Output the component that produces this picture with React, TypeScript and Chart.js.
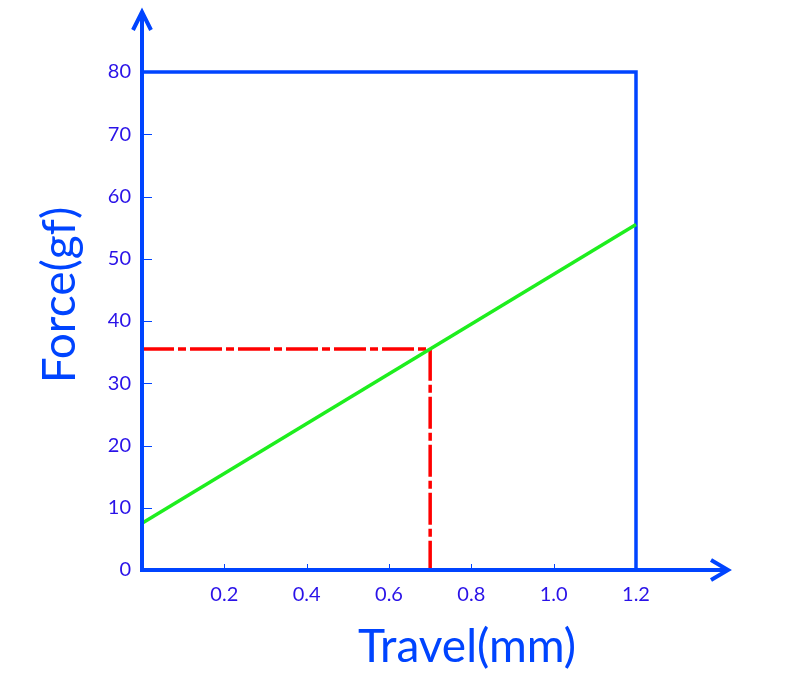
import React, { useEffect, useRef } from "react";
import { Chart, registerables } from "chart.js";

Chart.register(...registerables);

const xTicks = [0.2, 0.4, 0.6, 0.8, 1.0, 1.2];
const yTicks = [0, 10, 20, 30, 40, 50, 60, 70, 80];
const springX = [0, 1.2];
const springY = [7.5, 55.5];
const markerX = [0, 0.7, 0.7];
const markerY = [35.5, 35.5, 0];
const boxX = [0, 1.2, 1.2];
const boxY = [80, 80, 0];
const xTitle = "Travel(mm)";
const yTitle = "Force(gf)";

const AXIS_BLUE = "#0044ff";
const LABEL_BLUE = "#2a12e8";
const FONT = "Lato, 'Open Sans', sans-serif";

const pts = (xs: number[], ys: number[]) => xs.map((x, i) => ({ x, y: ys[i] }));

const decorPlugin = {
  id: "decor",
  afterDatasetsDraw(chart: any) {
    const ctx = chart.ctx;
    const xs = chart.scales.x;
    const ys = chart.scales.y;
    const x0 = xs.getPixelForValue(0);
    const y0 = ys.getPixelForValue(0);
    const top = chart.chartArea.top;
    const right = chart.chartArea.right;
    ctx.save();
    // inner tick marks
    ctx.strokeStyle = AXIS_BLUE;
    ctx.lineWidth = 1;
    yTicks.forEach((v) => {
      if (v === 0) return;
      const py = Math.round(ys.getPixelForValue(v)) + 0.5;
      ctx.beginPath();
      ctx.moveTo(x0, py);
      ctx.lineTo(x0 + 10, py);
      ctx.stroke();
    });
    xTicks.forEach((v) => {
      const px = Math.round(xs.getPixelForValue(v)) + 0.5;
      ctx.beginPath();
      ctx.moveTo(px, y0);
      ctx.lineTo(px, y0 - 6);
      ctx.stroke();
    });
    // axes with arrows
    ctx.lineWidth = 4;
    ctx.lineCap = "butt";
    ctx.beginPath();
    ctx.moveTo(x0, y0 + 2);
    ctx.lineTo(x0, top);
    ctx.moveTo(x0 - 2, y0);
    ctx.lineTo(right, y0);
    ctx.stroke();
    ctx.lineJoin = "miter";
    ctx.beginPath();
    ctx.moveTo(x0 - 9, top + 18);
    ctx.lineTo(x0, top);
    ctx.lineTo(x0 + 9, top + 18);
    ctx.stroke();
    ctx.beginPath();
    ctx.moveTo(right - 17, y0 - 10);
    ctx.lineTo(right, y0);
    ctx.lineTo(right - 17, y0 + 10);
    ctx.stroke();
    // axis titles
    ctx.fillStyle = AXIS_BLUE;
    ctx.font = `46px ${FONT}`;
    ctx.textAlign = "center";
    ctx.textBaseline = "middle";
    ctx.fillText(xTitle, 467, 647);
    ctx.translate(60, 295);
    ctx.rotate(-Math.PI / 2);
    ctx.fillText(yTitle, 0, 0);
    ctx.restore();
  },
};

export default function App() {
  const ref = useRef<HTMLCanvasElement | null>(null);
  useEffect(() => {
    if (!ref.current) return;
    const chart = new Chart(ref.current, {
      type: "line",
      data: {
        datasets: [
          {
            data: pts(springX, springY),
            borderColor: "#1eee1e",
            borderWidth: 3.5,
            pointRadius: 0,
            clip: false,
          } as any,
          {
            data: pts(markerX, markerY),
            borderColor: "#ff0000",
            borderWidth: 3.5,
            borderDash: [32, 4, 8, 4],
            pointRadius: 0,
            clip: false,
          } as any,
          {
            data: pts(boxX, boxY),
            borderColor: AXIS_BLUE,
            borderWidth: 3.5,
            pointRadius: 0,
            clip: false,
            borderJoinStyle: "miter",
          } as any,
        ],
      },
      options: {
        responsive: false,
        animation: false,
        devicePixelRatio: 1,
        layout: { padding: { top: 12, right: 75, left: 0, bottom: 0 } },
        plugins: { legend: { display: false }, tooltip: { enabled: false } },
        scales: {
          x: {
            type: "linear",
            min: 0,
            max: 1.4235,
            grid: { display: false, drawTicks: false, tickLength: 0 },
            border: { display: false },
            afterBuildTicks: (s: any) => {
              s.ticks = xTicks.map((v) => ({ value: v }));
            },
            afterFit: (s: any) => {
              s.height = 125;
              s.paddingLeft = 0;
              s.paddingRight = 0;
            },
            ticks: {
              color: LABEL_BLUE,
              font: { family: FONT, size: 20 },
              padding: 13,
              maxRotation: 0,
              autoSkip: false,
              callback: (v: any) => Number(v).toFixed(1),
            },
          },
          y: {
            type: "linear",
            min: 0,
            max: 89.64,
            grid: { display: false, drawTicks: false, tickLength: 0 },
            border: { display: false },
            afterBuildTicks: (s: any) => {
              s.ticks = yTicks.map((v) => ({ value: v }));
            },
            afterFit: (s: any) => {
              s.width = 142;
              s.paddingTop = 0;
              s.paddingBottom = 0;
            },
            ticks: {
              color: LABEL_BLUE,
              font: { family: FONT, size: 20 },
              padding: 11,
              autoSkip: false,
              callback: (v: any) => String(v),
            },
          },
        },
      },
      plugins: [decorPlugin],
    });
    return () => chart.destroy();
  }, []);
  return (
    <div style={{ position: "fixed", left: 0, top: 0, width: 803, height: 695, background: "#fff" }}>
      <canvas ref={ref} width={803} height={695} style={{ display: "block" }} />
    </div>
  );
}
